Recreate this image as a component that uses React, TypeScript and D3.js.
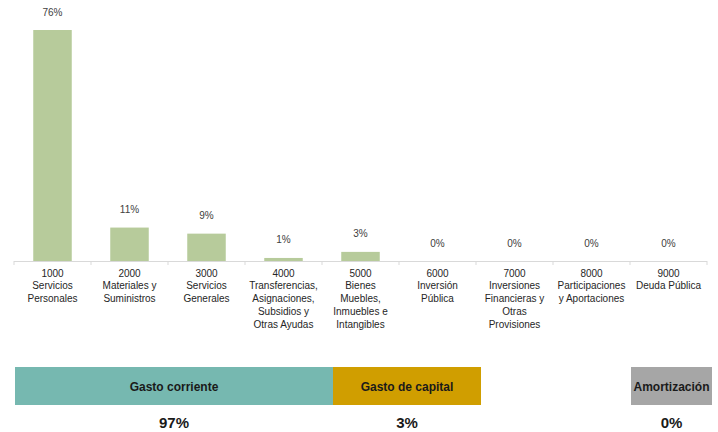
import React from "react";
import * as d3 from "d3";

// ---- Data ----
const categoryCodes = ["1000", "2000", "3000", "4000", "5000", "6000", "7000", "8000", "9000"];
const categoryNames: string[][] = [
  ["Servicios", "Personales"],
  ["Materiales y", "Suministros"],
  ["Servicios", "Generales"],
  ["Transferencias,", "Asignaciones,", "Subsidios y", "Otras Ayudas"],
  ["Bienes", "Muebles,", "Inmuebles e", "Intangibles"],
  ["Inversión", "Pública"],
  ["Inversiones", "Financieras y", "Otras", "Provisiones"],
  ["Participaciones", "y Aportaciones"],
  ["Deuda Pública"],
];
const shareValues = [76, 11, 9, 1, 3, 0, 0, 0, 0];

const groupNames = ["Gasto corriente", "Gasto de capital", "Amortización"];
const groupValues = [97, 3, 0];

// ---- Layout / style ----
const W = 718;
const H = 432;
const axisLeft = 14;
const axisRight = 707;
const axisY = 261;
const barColor = "#B7CB9B";
const axisColor = "#D9D9D9";
const textColor = "#404040";
const groupColors = ["#76B8B0", "#D09E00", "#A6A6A6"];
// box edges for the summary strip (layout, not data)
const groupBoxes = [
  [15, 333],
  [333, 481],
  [631, 712],
];
const boxTop = 367;
const boxBottom = 405;

export default function App() {
  const x = d3
    .scaleBand<string>()
    .domain(categoryCodes)
    .range([axisLeft, axisRight])
    .paddingInner(0.5)
    .paddingOuter(0.25);
  const y = d3.scaleLinear().domain([0, 76]).range([axisY, 30]);
  const step = x.step();
  const tickXs = d3.range(categoryCodes.length + 1).map((i) => axisLeft + i * step);

  return (
    <svg
      width={W}
      height={H}
      style={{ position: "absolute", left: 0, top: 0, background: "#fff" }}
      fontFamily="Liberation Sans, Arial, sans-serif"
    >
      <rect x={0} y={0} width={W} height={H} fill="#fff" />
      {categoryCodes.map((c, i) => {
        const bx = x(c)!;
        const by = y(shareValues[i]);
        const cx = bx + x.bandwidth() / 2;
        return (
          <g key={c}>
            <rect x={bx} y={by} width={x.bandwidth()} height={axisY - by} fill={barColor} />
            <text x={cx} y={by - 14.5} textAnchor="middle" fontSize={10} fill={textColor}>
              {shareValues[i]}%
            </text>
            {[c, ...categoryNames[i]].map((line, j) => (
              <text
                key={j}
                x={cx}
                y={276.5 + j * 12.8}
                textAnchor="middle"
                fontSize={10}
                fill="#262626"
              >
                {line}
              </text>
            ))}
          </g>
        );
      })}
      <line x1={axisLeft} x2={axisRight} y1={axisY + 0.5} y2={axisY + 0.5} stroke={axisColor} strokeWidth={1} />
      {tickXs.map((tx, i) => (
        <line key={i} x1={tx} x2={tx} y1={axisY} y2={axisY + 4} stroke={axisColor} strokeWidth={1} />
      ))}

      {groupNames.map((g, i) => {
        const [x0, x1] = groupBoxes[i];
        const cx = (x0 + x1) / 2;
        return (
          <g key={g}>
            <rect x={x0} y={boxTop} width={x1 - x0} height={boxBottom - boxTop} fill={groupColors[i]} />
            <text x={cx} y={390.5} textAnchor="middle" fontSize={12} fontWeight="bold" fill="#1a1a1a">
              {g}
            </text>
            <text x={cx} y={428} textAnchor="middle" fontSize={15} fontWeight="bold" fill="#1a1a1a">
              {groupValues[i]}%
            </text>
          </g>
        );
      })}
    </svg>
  );
}
